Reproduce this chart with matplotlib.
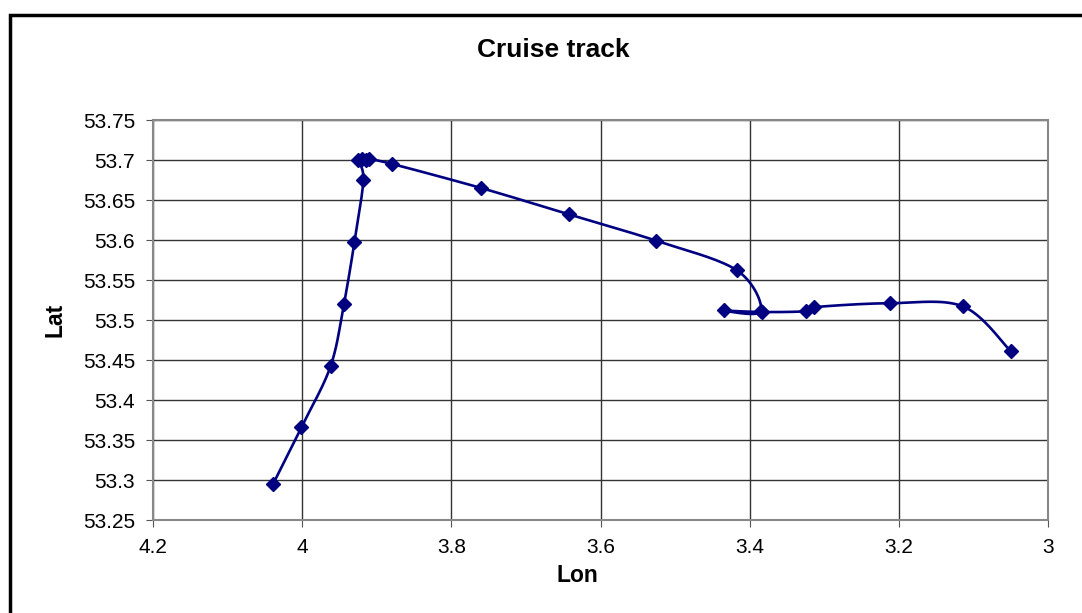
import matplotlib
matplotlib.use('Agg')
import matplotlib.pyplot as plt
from matplotlib.patches import Rectangle
import numpy as np

plt.rcParams['font.family'] = ['Liberation Sans', 'DejaVu Sans']

# cruise track points, in order of sailing
lon = [4.039, 4.001, 3.962, 3.944, 3.930, 3.918, 3.925, 3.920, 3.914, 3.910,
       3.879, 3.760, 3.642, 3.525, 3.417, 3.385, 3.435, 3.383, 3.325, 3.314,
       3.212, 3.114, 3.050]
lat = [53.295, 53.366, 53.442, 53.520, 53.597, 53.675, 53.700, 53.701, 53.700, 53.701,
       53.695, 53.665, 53.632, 53.599, 53.562, 53.511, 53.512, 53.510, 53.511, 53.516,
       53.521, 53.517, 53.461]

x_ticks = [4.2, 4.0, 3.8, 3.6, 3.4, 3.2, 3.0]
x_labels = ['4.2', '4', '3.8', '3.6', '3.4', '3.2', '3']
y_ticks = [53.25, 53.3, 53.35, 53.4, 53.45, 53.5, 53.55, 53.6, 53.65, 53.7, 53.75]
y_labels = ['53.25', '53.3', '53.35', '53.4', '53.45', '53.5', '53.55', '53.6',
            '53.65', '53.7', '53.75']


def smooth(xs, ys, n=20):
    # excel-like smoothed line (catmull-rom through the points)
    p = np.column_stack([xs, ys])
    p = np.vstack([p[0], p, p[-1]])
    out = []
    for i in range(1, len(p) - 2):
        p0, p1, p2, p3 = p[i - 1], p[i], p[i + 1], p[i + 2]
        t = np.linspace(0, 1, n)[:, None]
        c1 = p1 + (p2 - p0) / 6
        c2 = p2 - (p3 - p1) / 6
        seg = ((1 - t) ** 3) * p1 + 3 * ((1 - t) ** 2) * t * c1 + 3 * (1 - t) * t ** 2 * c2 + t ** 3 * p2
        out.append(seg)
    out = np.vstack(out)
    return out[:, 0], out[:, 1]


fig = plt.figure(figsize=(10.82, 6.13), dpi=100)
ax = fig.add_axes([0.1414, 0.1517, 0.8272, 0.6525])

sx, sy = smooth(lon, lat)
ax.plot(sx, sy, color='#000080', linewidth=1.9)
ax.plot(lon, lat, 'D', color='#000080', markersize=7)

ax.set_xlim(4.2, 3.0)
ax.set_ylim(53.25, 53.75)
ax.set_xticks(x_ticks)
ax.set_xticklabels(x_labels)
ax.set_yticks(y_ticks)
ax.set_yticklabels(y_labels)
ax.tick_params(labelsize=15, length=5, color='#555555', pad=8)
ax.grid(True, color='#333333', linewidth=1)
for s in ax.spines.values():
    s.set_color('#888888')
    s.set_linewidth(1.5)

ax.set_xlabel('Lon', fontsize=16.5, fontweight='bold', labelpad=5, x=0.474)
ax.set_ylabel('Lat', fontsize=16.5, fontweight='bold', labelpad=12)
fig.text(0.511, 0.918, 'Cruise track', fontsize=19, fontweight='bold',
         ha='center', va='center')

# outer chart border (top and left visible)
fig.patches.append(Rectangle((0.0092, -0.1), 1.2, 1.0755, transform=fig.transFigure,
                             fill=False, edgecolor='black', linewidth=2.5))

plt.savefig('out.png', dpi=100)
